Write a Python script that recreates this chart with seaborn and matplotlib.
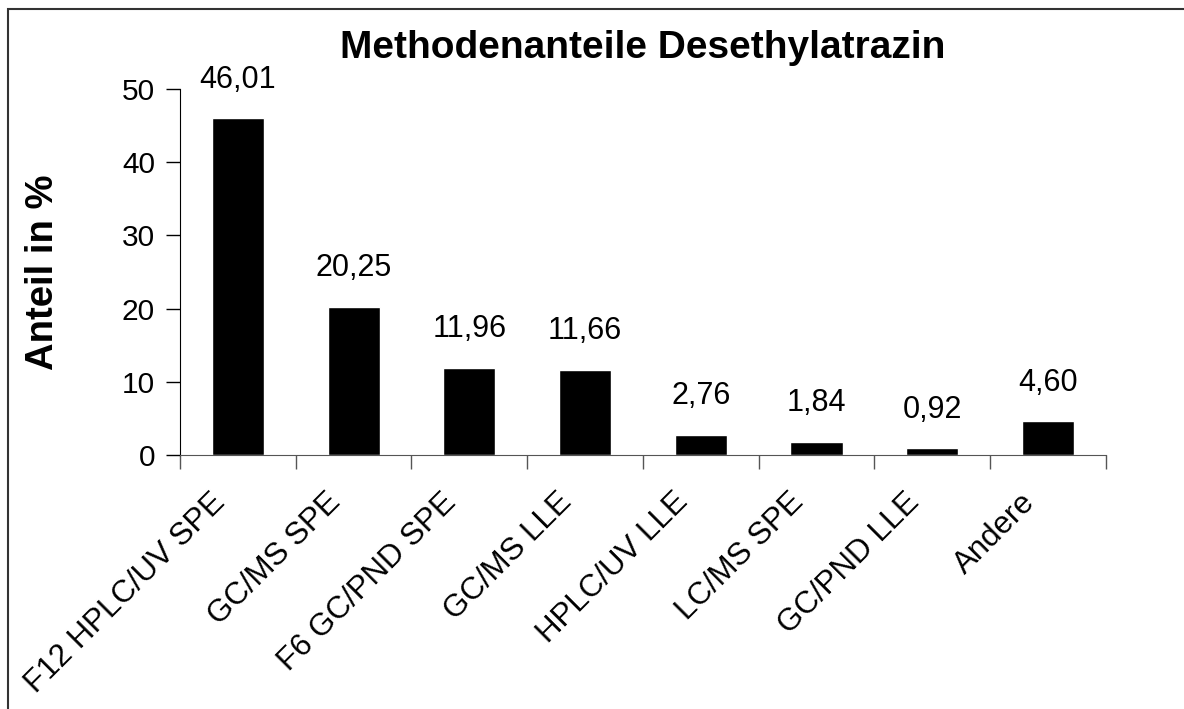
import matplotlib
matplotlib.use('Agg')
import matplotlib.pyplot as plt
import matplotlib.transforms as mtransforms
import seaborn as sns
import pandas as pd
from matplotlib.patches import Rectangle

methods = ['F12 HPLC/UV SPE', 'GC/MS SPE', 'F6 GC/PND SPE', 'GC/MS LLE',
           'HPLC/UV LLE', 'LC/MS SPE', 'GC/PND LLE', 'Andere']
shares = [46.01, 20.25, 11.96, 11.66, 2.76, 1.84, 0.92, 4.60]

sns.set_style('white')
plt.rcParams['font.family'] = ['Liberation Sans', 'DejaVu Sans']
plt.rcParams['text.color'] = 'black'
plt.rcParams['axes.labelcolor'] = 'black'
plt.rcParams['xtick.color'] = 'black'
plt.rcParams['ytick.color'] = 'black'

df = pd.DataFrame({'Methode': methods, 'Anteil': shares})

fig = plt.figure(figsize=(11.84, 7.09), dpi=100)
ax = fig.add_axes([0.152, 0.358, 0.782, 0.5165])
sns.barplot(data=df, x='Methode', y='Anteil', color='black', width=0.45,
            saturation=1, ax=ax)

ax.set_xlim(-0.5, len(methods) - 0.5)
ax.set_ylim(0, 50)
ax.set_yticks([0, 10, 20, 30, 40, 50])
ax.tick_params(axis='y', labelsize=21.5, length=10, width=1, direction='out',
               left=True, pad=8)
ax.set_xticks(range(len(methods)))
ax.set_xticklabels(methods, rotation=45, ha='right', va='top',
                   rotation_mode='anchor', fontsize=22.5)
ax.tick_params(axis='x', which='major', length=0, pad=23)
shift = mtransforms.ScaledTranslation(-28 / 100, 0, fig.dpi_scale_trans)
for lbl in ax.get_xticklabels():
    lbl.set_transform(lbl.get_transform() + shift)
ax.set_xticks([i - 0.5 for i in range(len(methods) + 1)], minor=True)
ax.tick_params(axis='x', which='minor', length=10, width=1, direction='out',
               bottom=True, color='#555555')

for s in ['top', 'right']:
    ax.spines[s].set_visible(False)
ax.spines['left'].set_color('black')
ax.spines['bottom'].set_color('#555555')

for i, v in enumerate(shares):
    ax.annotate(f'{v:.2f}'.replace('.', ','), (i, v), xytext=(0, 17),
                textcoords='offset points', ha='center', va='bottom', fontsize=22)

ax.set_xlabel('')
ax.set_ylabel('Anteil in %', fontsize=27.5, fontweight='bold', labelpad=44)
ax.set_title('Methodenanteile Desethylatrazin', fontsize=28, fontweight='bold', pad=22)

fig.patches.append(Rectangle((8 / 1184, -0.1), 1.2, 0.1 + 1 - 9 / 709,
                             transform=fig.transFigure, fill=False,
                             edgecolor='#333333', linewidth=1.5))

fig.savefig('out.png', dpi=100)
